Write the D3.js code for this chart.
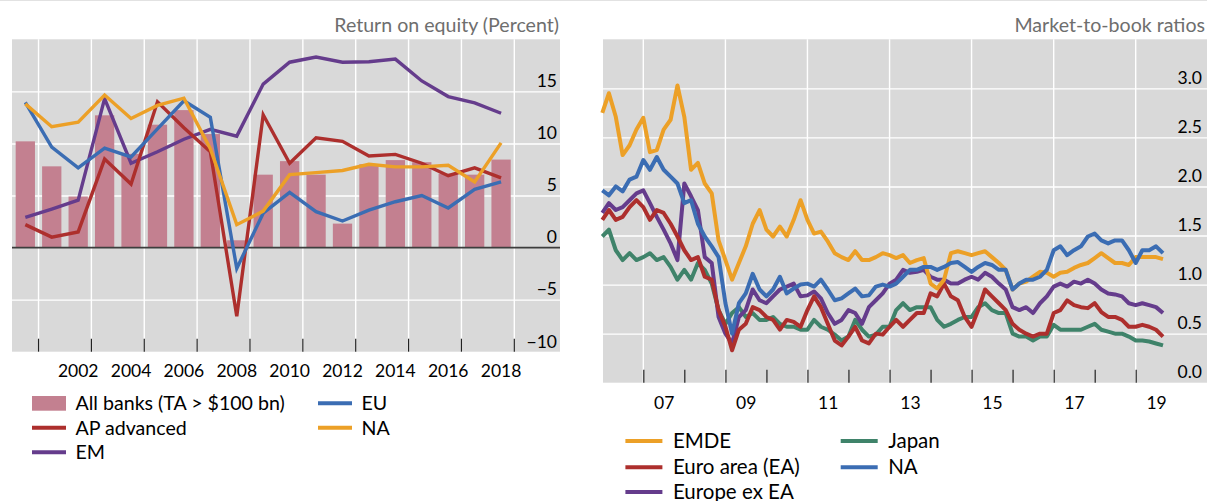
<!DOCTYPE html>
<html><head><meta charset="utf-8">
<script src="https://cdn.jsdelivr.net/npm/d3@7"></script>
<style>
body{margin:0;background:#fff}
svg text{font-family:Lato,"Open Sans","Noto Sans",sans-serif}
</style>
</head><body>
<svg id="chart" width="1207" height="501"></svg>
<script>
// ---------- Left panel data: Return on equity (percent) ----------
const roeYears = [2000,2001,2002,2003,2004,2005,2006,2007,2008,2009,2010,2011,2012,2013,2014,2015,2016,2017,2018];
const roeAllBanks  = [10.2,7.8,4.9,12.7,9.0,11.8,13.2,10.9,0.7,7.0,8.3,7.0,2.3,8.0,8.4,8.2,7.1,7.0,8.45];
const roeAPAdvanced= [2.2,1.0,1.5,8.5,6.1,14.0,11.5,9.2,-6.6,12.75,8.1,10.55,10.2,8.8,8.95,8.1,6.9,7.65,6.7];
const roeEM        = [2.9,3.7,4.55,14.3,8.1,9.2,10.4,11.35,10.7,15.7,17.8,18.3,17.8,17.85,18.1,16.0,14.5,13.9,12.9];
const roeEU        = [13.95,9.65,7.65,9.55,8.7,11.4,14.1,12.5,-2.0,3.3,5.3,3.45,2.55,3.6,4.4,5.0,3.8,5.6,6.3];
const roeNA        = [13.8,11.6,12.05,14.65,12.4,13.65,14.35,9.5,2.2,3.5,7.0,7.2,7.4,8.0,7.75,7.75,7.9,6.3,10.05];
const roeYTicks = [-10,-5,0,5,10,15];
const roeXLabels = [2002,2004,2006,2008,2010,2012,2014,2016,2018];

// ---------- Right panel data: Market-to-book ratios (bi-monthly readings) ----------
const mbDates = d3.timeMonth.every(2).range(new Date(2006,0,1), new Date(2019,9,1));
const mbEMDE = [2.75,2.95,2.71,2.32,2.42,2.58,2.7,2.35,2.37,2.58,2.68,3.03,2.71,2.17,2.24,2.03,1.93,1.45,1.25,1.05,1.22,
  1.39,1.62,1.76,1.56,1.49,1.59,1.49,1.66,1.86,1.66,1.52,1.54,1.44,1.32,1.28,1.25,1.34,1.25,1.25,1.28,1.32,
  1.30,1.27,1.30,1.22,1.25,1.27,1.01,0.96,1.05,1.32,1.34,1.32,1.30,1.32,1.34,1.28,1.22,1.15,0.95,1.01,1.03,
  1.08,1.13,1.12,1.08,1.12,1.13,1.17,1.2,1.22,1.27,1.32,1.27,1.22,1.22,1.2,1.28,1.28,1.28,1.28,1.26];
const mbNA = [1.96,1.91,2.0,1.95,2.07,2.1,2.27,2.17,2.3,2.17,2.1,2.03,1.83,1.86,1.62,1.49,1.39,1.28,0.81,0.5,0.81,
  0.91,1.11,0.95,0.88,0.95,1.08,0.91,0.96,1.0,1.01,0.98,1.05,0.95,0.84,0.86,0.91,0.96,0.88,0.89,0.98,1.0,
  0.98,1.01,1.08,1.15,1.15,1.18,1.18,1.15,1.18,1.22,1.23,1.18,1.13,1.18,1.22,1.2,1.15,1.15,0.95,1.01,1.05,
  1.05,1.08,1.15,1.35,1.39,1.30,1.35,1.39,1.49,1.52,1.45,1.42,1.45,1.45,1.35,1.22,1.35,1.35,1.39,1.32];
const mbEuroArea = [1.66,1.76,1.66,1.69,1.79,1.86,1.79,1.66,1.76,1.73,1.62,1.49,1.35,1.25,1.28,1.08,1.05,0.74,0.57,0.33,0.54,
  0.6,0.77,0.74,0.67,0.64,0.54,0.64,0.62,0.57,0.74,0.88,0.77,0.6,0.43,0.38,0.47,0.57,0.43,0.4,0.5,0.49,
  0.57,0.64,0.57,0.64,0.71,0.71,0.91,0.88,1.01,0.88,0.84,0.67,0.57,0.74,0.95,0.88,0.81,0.74,0.6,0.54,0.5,
  0.47,0.5,0.5,0.71,0.74,0.84,0.79,0.77,0.76,0.81,0.72,0.67,0.67,0.64,0.57,0.57,0.59,0.57,0.54,0.47];
const mbEuropeExEA = [1.73,1.83,1.76,1.79,1.86,1.93,1.96,1.83,1.69,1.56,1.42,1.25,2.03,1.9,1.76,1.28,1.22,0.67,0.5,0.4,0.67,
  0.74,0.95,0.84,0.81,0.88,0.95,0.98,1.01,0.88,0.89,0.93,0.86,0.71,0.6,0.64,0.74,0.71,0.6,0.77,0.84,0.91,
  1.01,1.05,1.15,1.12,1.13,1.15,1.08,1.05,1.05,1.01,1.01,1.05,1.08,1.05,1.12,1.08,1.01,0.95,0.77,0.74,0.77,
  0.71,0.81,0.88,0.98,1.01,0.98,1.03,1.01,1.05,1.01,0.95,0.91,0.9,0.88,0.81,0.79,0.81,0.79,0.77,0.71];
const mbJapan = [1.49,1.56,1.35,1.25,1.32,1.25,1.28,1.32,1.25,1.28,1.18,1.05,1.15,1.05,1.22,1.15,1.01,0.74,0.6,0.71,0.77,
  0.67,0.71,0.64,0.64,0.67,0.6,0.57,0.57,0.54,0.54,0.64,0.57,0.54,0.49,0.43,0.47,0.64,0.54,0.47,0.49,0.57,
  0.57,0.74,0.81,0.74,0.77,0.77,0.77,0.64,0.57,0.6,0.64,0.67,0.67,0.77,0.81,0.74,0.71,0.71,0.5,0.47,0.47,
  0.43,0.47,0.47,0.59,0.54,0.54,0.54,0.54,0.57,0.6,0.54,0.52,0.5,0.5,0.47,0.43,0.43,0.42,0.4,0.38];
const mbYTicks = [0,0.5,1,1.5,2,2.5,3];
const mbLabelYears = [2007,2009,2011,2013,2015,2017,2019];

// ---------- Styles ----------
const C = {bar:"#c38090", red:"#ad2f2d", purple:"#653c8c", blue:"#3b6db3", orange:"#eca027", green:"#3f836a",
           bg:"#d9d9d9", grid:"#ffffff", zero:"#3d3d3d", title:"#6e6e6e", text:"#000"};
const svg = d3.select("#chart");
svg.append("line").attr("x1",0).attr("x2",1207).attr("y1",0.5).attr("y2",0.5).attr("stroke","#e2e2e2");

// =================== LEFT PANEL ===================
const L = {x0:12, x1:560, y0:39.3, y1:351.7};
const gL = svg.append("g");
gL.append("rect").attr("x",L.x0).attr("y",L.y0).attr("width",L.x1-L.x0).attr("height",L.y1-L.y0).attr("fill",C.bg);
const xL = d3.scaleBand().domain(roeYears).range([12.1,514.3]).paddingInner(0.27).paddingOuter(0.135);
const yL = d3.scaleLinear().domain([-10,20]).range([L.y1,L.y0]);
const gap = xL.step() - xL.bandwidth();
const boundaries = roeYears.filter(y => y % 2 === 1).map(y => xL(y) - gap/2).concat([xL(2018)+xL.bandwidth()+gap/2]);
gL.append("g").attr("transform",`translate(${L.x0},0)`)
  .call(d3.axisLeft(yL).tickValues(roeYTicks.filter(v=>v!==0 && v!==-10)).tickSize(-(L.x1-L.x0)).tickFormat(""))
  .call(g=>{g.select(".domain").remove(); g.selectAll("line").attr("stroke",C.grid).attr("stroke-width",1.4);});
gL.selectAll(".vg").data(boundaries).join("line")
  .attr("x1",d=>d).attr("x2",d=>d).attr("y1",L.y0).attr("y2",L.y1).attr("stroke",C.grid).attr("stroke-width",1.4);
gL.selectAll(".bar").data(roeYears).join("rect")
  .attr("x",d=>xL(d)).attr("width",xL.bandwidth())
  .attr("y",(d,i)=>yL(Math.max(0,roeAllBanks[i]))).attr("height",(d,i)=>Math.abs(yL(roeAllBanks[i])-yL(0)))
  .attr("fill",C.bar);
gL.append("line").attr("x1",L.x0).attr("x2",L.x1).attr("y1",yL(0)).attr("y2",yL(0)).attr("stroke",C.zero).attr("stroke-width",1.8);
const lineL = d3.line().x((d,i)=>xL(roeYears[i])+xL.bandwidth()/2).y(d=>yL(d));
[[roeEM,C.purple],[roeAPAdvanced,C.red],[roeEU,C.blue],[roeNA,C.orange]].forEach(([s,c])=>{
  gL.append("path").datum(s).attr("d",lineL).attr("fill","none").attr("stroke",c).attr("stroke-width",3.4);
});
gL.selectAll(".bt").data(boundaries).join("line")
  .attr("x1",d=>d).attr("x2",d=>d).attr("y1",L.y1).attr("y2",L.y1-13).attr("stroke","#222").attr("stroke-width",1.2);
gL.append("g").attr("transform",`translate(557,-11)`)
  .call(d3.axisLeft(yL).tickValues(roeYTicks).tickSize(0).tickPadding(0))
  .call(g=>{g.select(".domain").remove(); g.selectAll("text").attr("font-size",17.5).attr("fill",C.text).attr("dy","0.36em");});
gL.append("g").attr("transform",`translate(0,${L.y1})`)
  .call(d3.axisBottom(xL).tickValues(roeXLabels).tickSize(0).tickPadding(0))
  .call(g=>{g.select(".domain").remove(); g.selectAll("text").attr("font-size",17.5).attr("fill",C.text).attr("dy","25.5px");});
gL.append("text").attr("x",559).attr("y",32).attr("text-anchor","end").attr("font-size",19.6).attr("fill",C.title)
  .text("Return on equity (Percent)");
const legL = [
  {t:"All banks (TA > $100 bn)", c:C.bar, bar:true, x:32, y:403.3},
  {t:"AP advanced", c:C.red, x:32, y:427.7},
  {t:"EM", c:C.purple, x:32, y:452.3},
  {t:"EU", c:C.blue, x:318, y:403.3},
  {t:"NA", c:C.orange, x:318, y:427.7}];
legL.forEach(d=>{
  if(d.bar) gL.append("rect").attr("x",d.x).attr("y",d.y-7.3).attr("width",34).attr("height",14.7).attr("fill",d.c);
  else gL.append("line").attr("x1",d.x).attr("x2",d.x+34).attr("y1",d.y).attr("y2",d.y).attr("stroke",d.c).attr("stroke-width",4);
  gL.append("text").attr("x",d.x+43.5).attr("y",d.y).attr("dy","0.35em").attr("font-size",19.6).attr("fill",C.text).text(d.t);
});

// =================== RIGHT PANEL ===================
const R = {x0:603, x1:1207, y0:39.3, y1:382.7};
const gR = svg.append("g");
gR.append("rect").attr("x",R.x0).attr("y",R.y0).attr("width",R.x1-R.x0).attr("height",R.y1-R.y0).attr("fill",C.bg);
const xR = d3.scaleTime().domain([new Date(2006,0,1), new Date(2019,0,1)]).range([602.3,1135.7]);
const yR = d3.scaleLinear().domain([0,3.5]).range([R.y1,R.y0]);
gR.append("g").attr("transform",`translate(${R.x0},0)`)
  .call(d3.axisLeft(yR).tickValues(mbYTicks.filter(v=>v>0)).tickSize(-(R.x1-R.x0)).tickFormat(""))
  .call(g=>{g.select(".domain").remove(); g.selectAll("line").attr("stroke",C.grid).attr("stroke-width",1.4);});
const gridYears = mbLabelYears.map(y=>new Date(y,0,1));
gR.selectAll(".vg").data(gridYears).join("line")
  .attr("x1",d=>xR(d)).attr("x2",d=>xR(d)).attr("y1",R.y0).attr("y2",R.y1).attr("stroke",C.grid).attr("stroke-width",1.4);
const lineR = d3.line().x((d,i)=>xR(mbDates[i])).y(d=>yR(d));
[[mbJapan,C.green],[mbEuropeExEA,C.purple],[mbEuroArea,C.red],[mbEMDE,C.orange],[mbNA,C.blue]].forEach(([s,c])=>{
  gR.append("path").datum(s).attr("d",lineR).attr("fill","none").attr("stroke",c).attr("stroke-width",4).attr("stroke-linejoin","round");
});
gR.append("g").attr("transform",`translate(0,${R.y1})`)
  .call(d3.axisTop(xR).tickValues(d3.timeYear.range(new Date(2007,0,1), new Date(2020,0,1))).tickSize(13).tickFormat(""))
  .call(g=>{g.select(".domain").remove(); g.selectAll("line").attr("stroke","#222").attr("stroke-width",1.2);});
gR.append("g").attr("transform",`translate(1202,-11.5)`)
  .call(d3.axisLeft(yR).tickValues(mbYTicks).tickSize(0).tickPadding(0).tickFormat(d3.format(".1f")))
  .call(g=>{g.select(".domain").remove(); g.selectAll("text").attr("font-size",17.5).attr("fill",C.text).attr("dy","0.36em");});
gR.append("g").attr("transform",`translate(0,${R.y1})`)
  .call(d3.axisBottom(xR).tickValues(mbLabelYears.map(y=>new Date(y,6,1))).tickSize(0).tickPadding(0).tickFormat(d3.timeFormat("%y")))
  .call(g=>{g.select(".domain").remove(); g.selectAll("text").attr("font-size",17.5).attr("fill",C.text).attr("dy","26.5px");});
gR.append("text").attr("x",1205).attr("y",32).attr("text-anchor","end").attr("font-size",19.6).attr("fill",C.title)
  .text("Market-to-book ratios");
const legR = [
  {t:"EMDE", c:C.orange, x:625.4, y:441},
  {t:"Euro area (EA)", c:C.red, x:625.4, y:467.3},
  {t:"Europe ex EA", c:C.purple, x:625.4, y:492},
  {t:"Japan", c:C.green, x:840.7, y:441},
  {t:"NA", c:C.blue, x:840.7, y:467.3}];
legR.forEach(d=>{
  gR.append("line").attr("x1",d.x).attr("x2",d.x+37).attr("y1",d.y).attr("y2",d.y).attr("stroke",d.c).attr("stroke-width",4);
  gR.append("text").attr("x",d.x+47.5).attr("y",d.y).attr("dy","0.35em").attr("font-size",20.5).attr("fill",C.text).text(d.t);
});
</script>
</body></html>
